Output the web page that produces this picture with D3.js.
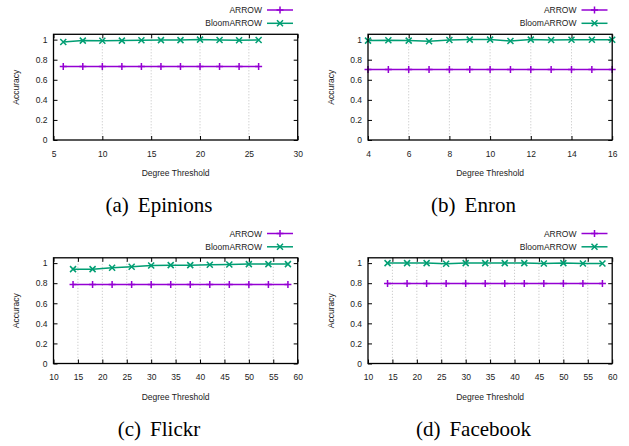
<!DOCTYPE html>
<html>
<head>
<meta charset="utf-8">
<script src="https://cdn.jsdelivr.net/npm/d3@7"></script>
<style>
  body { margin: 0; background: #fff; }
  text { font-family: "Liberation Sans", Arial, sans-serif; }
  .caption { font-family: "Liberation Serif", "Times New Roman", serif; }
</style>
</head>
<body>
<div id="chart"></div>
<script>
// data
var epinionsX = [6, 8, 10, 12, 14, 16, 18, 20, 22, 24, 26];
var epinionsArrow = [0.733, 0.733, 0.733, 0.733, 0.733, 0.733, 0.733, 0.733, 0.733, 0.733, 0.733];
var epinionsBloom = [0.977, 0.99, 0.988, 0.99, 0.993, 0.995, 0.995, 1.0, 0.997, 0.993, 0.997];

var enronX = [4, 5, 6, 7, 8, 9, 10, 11, 12, 13, 14, 15, 16];
var enronArrow = [0.703, 0.703, 0.703, 0.703, 0.703, 0.703, 0.703, 0.703, 0.703, 0.703, 0.703, 0.703, 0.703];
var enronBloom = [0.99, 0.993, 0.99, 0.983, 0.997, 1.0, 1.0, 0.987, 1.0, 0.997, 0.998, 0.998, 0.998];

var flickrX = [14, 18, 22, 26, 30, 34, 38, 42, 46, 50, 54, 58];
var flickrArrow = [0.787, 0.787, 0.787, 0.787, 0.787, 0.787, 0.787, 0.787, 0.787, 0.787, 0.787, 0.787];
var flickrBloom = [0.94, 0.94, 0.953, 0.963, 0.977, 0.98, 0.98, 0.983, 0.987, 0.99, 0.99, 0.99];

var facebookX = [14, 18, 22, 26, 30, 34, 38, 42, 46, 50, 54, 58];
var facebookArrow = [0.797, 0.797, 0.797, 0.797, 0.797, 0.797, 0.797, 0.797, 0.797, 0.797, 0.797, 0.797];
var facebookBloom = [1.0, 1.0, 1.0, 0.993, 1.0, 1.0, 1.0, 1.0, 0.997, 1.0, 0.997, 0.997];

var yTicks = [0, 0.2, 0.4, 0.6, 0.8, 1];
var seriesNames = ["ARROW", "BloomARROW"];
var colors = ["#9400d3", "#009e73"];

var W = 629, H = 446;

var svg = d3.select("#chart").append("svg")
    .attr("width", W)
    .attr("height", H);

var panels = [
    { label: "(a)", name: "Epinions", x: epinionsX, arrow: epinionsArrow, bloom: epinionsBloom,
      domain: [5, 30], ticks: [5, 10, 15, 20, 25, 30], dx: 0, dy: 0 },
    { label: "(b)", name: "Enron", x: enronX, arrow: enronArrow, bloom: enronBloom,
      domain: [4, 16], ticks: [4, 6, 8, 10, 12, 14, 16], dx: 314.5, dy: 0 },
    { label: "(c)", name: "Flickr", x: flickrX, arrow: flickrArrow, bloom: flickrBloom,
      domain: [10, 60], ticks: [10, 15, 20, 25, 30, 35, 40, 45, 50, 55, 60], dx: 0, dy: 223.5 },
    { label: "(d)", name: "Facebook", x: facebookX, arrow: facebookArrow, bloom: facebookBloom,
      domain: [10, 60], ticks: [10, 15, 20, 25, 30, 35, 40, 45, 50, 55, 60], dx: 314.5, dy: 223.5 }
];

var margin = { left: 53.5, top: 34.3 };
var plotW = 297.7 - 53.5, plotH = 140 - 34.3;

function marker(g, type, cx, cy, color) {
    var s = 3.5;
    var p = type === 0
        ? "M" + (cx - s) + "," + cy + "H" + (cx + s) + "M" + cx + "," + (cy - s) + "V" + (cy + s)
        : "M" + (cx - 3) + "," + (cy - 3) + "L" + (cx + 3) + "," + (cy + 3) + "M" + (cx - 3) + "," + (cy + 3) + "L" + (cx + 3) + "," + (cy - 3);
    g.append("path").attr("d", p).attr("stroke", color).attr("stroke-width", 1.5).attr("fill", "none");
}

panels.forEach(function (p) {
    var g = svg.append("g").attr("transform", "translate(" + p.dx + "," + p.dy + ")");
    var plot = g.append("g").attr("transform", "translate(" + margin.left + "," + margin.top + ")");

    var xScale = d3.scaleLinear().domain(p.domain).range([0, plotW]);
    var yScale = d3.scaleLinear().domain([0, 1.053]).range([plotH, 0]);

    // vertical dotted grid
    plot.selectAll(".grid")
        .data(p.ticks.slice(1, -1))
        .enter().append("line")
        .attr("x1", function (d) { return xScale(d); })
        .attr("x2", function (d) { return xScale(d); })
        .attr("y1", 0).attr("y2", plotH)
        .attr("stroke", "#b0b0b0")
        .attr("stroke-width", 0.8)
        .attr("stroke-dasharray", "1,2");

    // axes with inward ticks, mirrored
    var axB = plot.append("g").attr("transform", "translate(0," + plotH + ")")
        .call(d3.axisBottom(xScale).tickValues(p.ticks).tickSize(-4).tickPadding(10.5).tickFormat(d3.format("d")));
    var axT = plot.append("g")
        .call(d3.axisTop(xScale).tickValues(p.ticks).tickSize(-4).tickFormat(""));
    var axL = plot.append("g")
        .call(d3.axisLeft(yScale).tickValues(yTicks).tickSize(-4).tickPadding(6).tickFormat(d3.format("~g")));
    var axR = plot.append("g").attr("transform", "translate(" + plotW + ",0)")
        .call(d3.axisRight(yScale).tickValues(yTicks).tickSize(-4).tickFormat(""));
    [axB, axT, axL, axR].forEach(function (a) {
        a.select(".domain").remove();
        a.selectAll(".tick line").attr("stroke", "#000").attr("stroke-width", 1);
        a.selectAll(".tick text").attr("font-size", "8.5px").attr("fill", "#222")
            .attr("font-family", "Liberation Sans, Arial, sans-serif");
    });

    var series = [p.arrow, p.bloom];
    series.forEach(function (vals, si) {
        var pts = p.x.map(function (x, i) { return [x, vals[i]]; });
        var line = d3.line()
            .x(function (d) { return xScale(d[0]); })
            .y(function (d) { return yScale(d[1]); });
        plot.append("path")
            .datum(pts)
            .attr("d", line)
            .attr("fill", "none")
            .attr("stroke", colors[si])
            .attr("stroke-width", 1.5);
        pts.forEach(function (d) {
            marker(plot, si, xScale(d[0]), yScale(d[1]), colors[si]);
        });
    });

    // frame
    plot.append("rect")
        .attr("x", 0).attr("y", 0).attr("width", plotW).attr("height", plotH)
        .attr("fill", "none").attr("stroke", "#000").attr("stroke-width", 1.3);

    // axis labels
    g.append("text")
        .attr("transform", "translate(19," + (margin.top + plotH / 2) + ") rotate(-90)")
        .attr("text-anchor", "middle")
        .attr("font-size", "8.5px")
        .attr("fill", "#222")
        .text("Accuracy");
    g.append("text")
        .attr("x", margin.left + plotW / 2)
        .attr("y", 176)
        .attr("text-anchor", "middle")
        .attr("font-size", "8.5px")
        .attr("fill", "#222")
        .text("Degree Threshold");

    // legend
    seriesNames.forEach(function (name, si) {
        var ly = 10 + si * 13.3;
        g.append("text")
            .attr("x", 262)
            .attr("y", ly + 3)
            .attr("text-anchor", "end")
            .attr("font-size", "8.5px")
            .attr("fill", "#222")
            .text(name);
        g.append("line")
            .attr("x1", 267).attr("x2", 293)
            .attr("y1", ly).attr("y2", ly)
            .attr("stroke", colors[si]).attr("stroke-width", 1.5);
        marker(g, si, 280, ly, colors[si]);
    });

    // caption
    var cap = g.append("text")
        .attr("class", "caption")
        .attr("x", 159)
        .attr("y", 212)
        .attr("text-anchor", "middle")
        .attr("font-size", "21px")
        .attr("fill", "#000");
    cap.append("tspan").text(p.label);
    cap.append("tspan").attr("dx", 9).text(p.name);
});
</script>
</body>
</html>
